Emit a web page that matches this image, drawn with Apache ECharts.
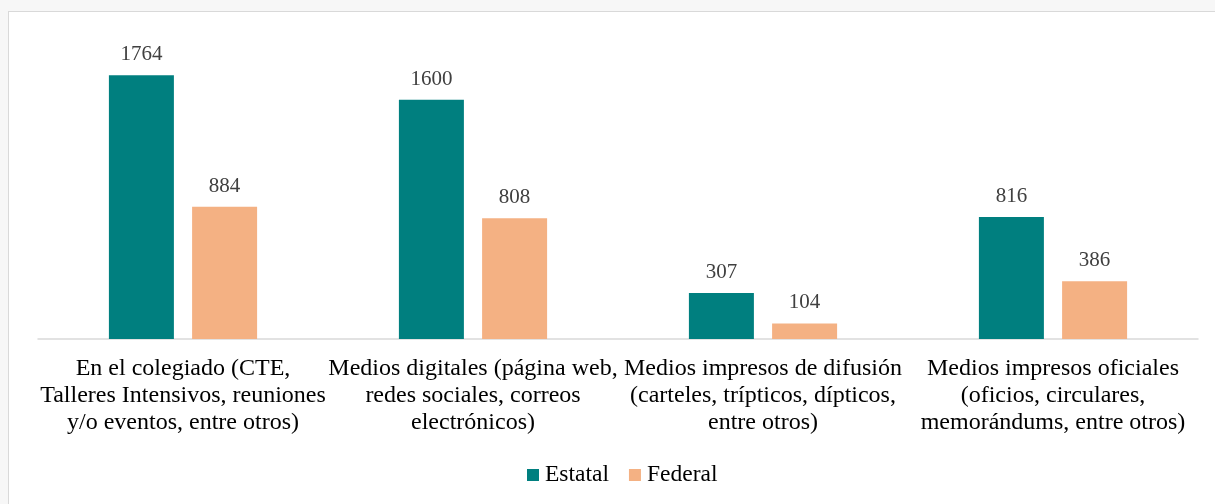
<!DOCTYPE html>
<html><head><meta charset="utf-8">
<script src="https://cdn.jsdelivr.net/npm/echarts@6/dist/echarts.min.js"></script>
<style>
html,body{margin:0;padding:0;width:1215px;height:504px;background:#f7f7f7;overflow:hidden}
#box{position:absolute;left:8px;top:11px;width:1215px;height:520px;background:#fff;border:1px solid #d9d9d9}
#chart{position:absolute;left:0;top:0;width:1215px;height:504px}
</style></head>
<body>
<div id="box"></div>
<div id="chart"></div>
<script>
const categories = [
  "En el colegiado (CTE,\nTalleres Intensivos, reuniones\ny/o eventos, entre otros)",
  "Medios digitales (página web,\nredes sociales, correos\nelectrónicos)",
  "Medios impresos de difusión\n(carteles, trípticos, dípticos,\nentre otros)",
  "Medios impresos oficiales\n(oficios, circulares,\nmemorándums, entre otros)"
];
const estatal = [1764, 1600, 307, 816];
const federal = [884, 808, 104, 386];
const seriesNames = ["Estatal", "Federal"];

const font = "Liberation Serif";
const chart = echarts.init(document.getElementById('chart'));
const lbl = {show:true, position:'top', distance:10, color:'#404040', fontSize:21, fontFamily:font};
chart.setOption({
  animation:false,
  backgroundColor:'transparent',
  textStyle:{fontFamily:font},
  grid:{left:38, right:17, top:40, bottom:165, containLabel:false},
  legend:{
    data:seriesNames, bottom:12, left:522, itemWidth:12, itemHeight:12, itemGap:20,
    icon:'rect', textStyle:{fontFamily:font, fontSize:23.5, color:'#000', padding:[0,0,0,1]}
  },
  xAxis:{
    type:'category', data:categories,
    axisLine:{lineStyle:{color:'#d9d9d9', width:1.5}},
    axisTick:{show:false},
    axisLabel:{interval:0, color:'#000', fontSize:24, lineHeight:27, fontFamily:font, margin:16}
  },
  yAxis:{type:'value', min:0, max:2000, show:false, splitLine:{show:false}},
  series:[
    {name:seriesNames[0], type:'bar', data:estatal, barWidth:65, barGap:'28%', itemStyle:{color:'#007f7f'}, label:lbl},
    {name:seriesNames[1], type:'bar', data:federal, barWidth:65, itemStyle:{color:'#f4b183'}, label:lbl}
  ]
});
</script>
</body></html>
